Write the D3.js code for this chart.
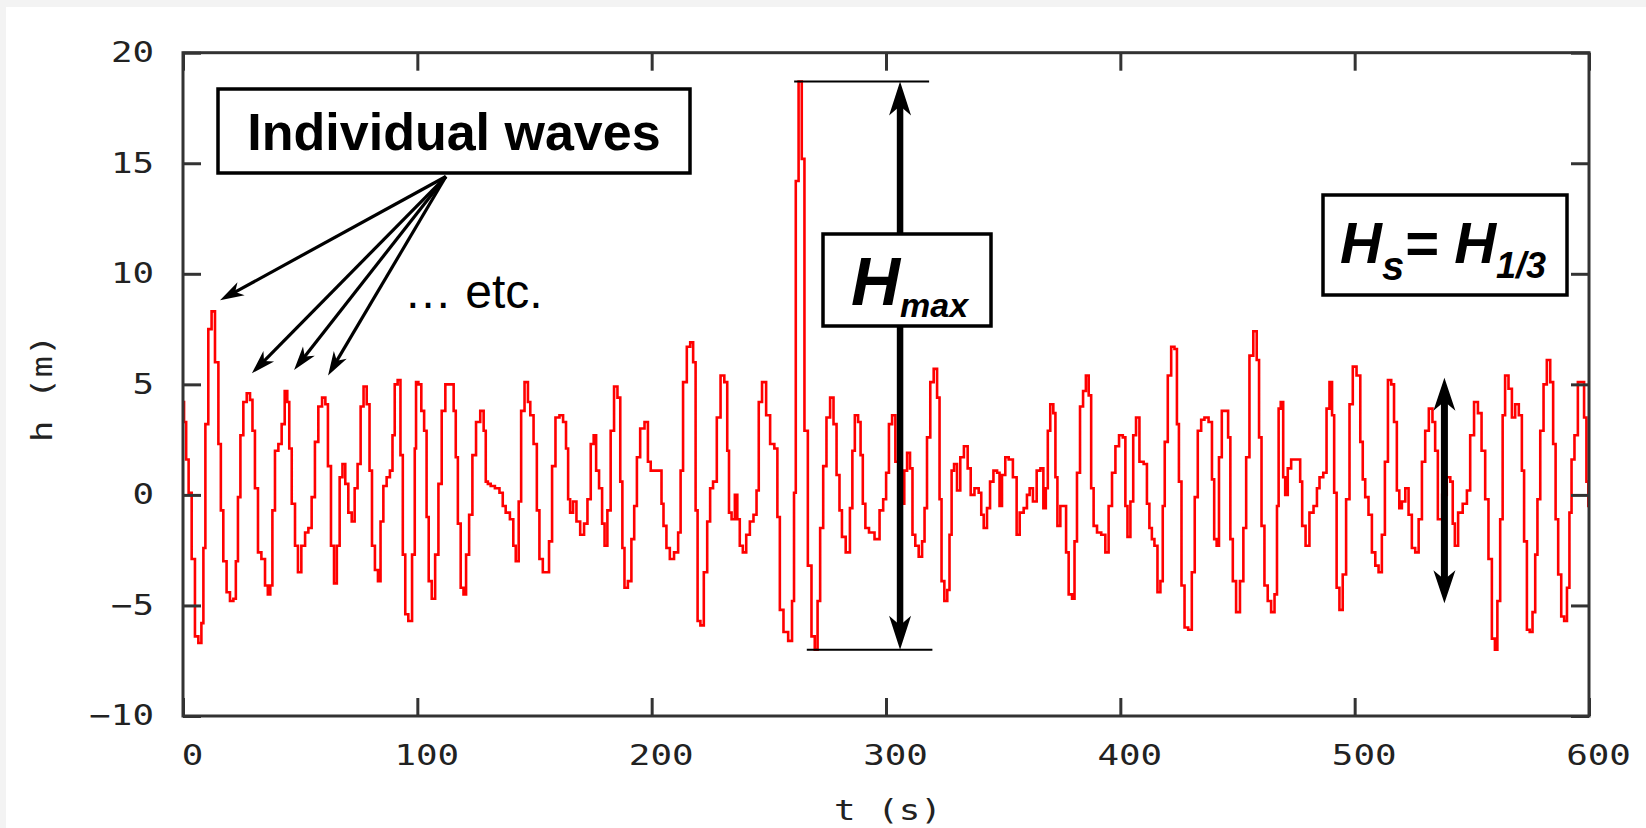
<!DOCTYPE html>
<html>
<head>
<meta charset="utf-8">
<script src="https://cdn.jsdelivr.net/npm/d3@7"></script>
<style>
  body { margin: 0; background: #f3f3f3; }
  svg { display: block; }
</style>
</head>
<body>
<svg id="chart"></svg>
<script>
// Surface elevation record, [t (s), h (m)]
const waveRecord = [
  [0, 4.2], [0.9, 3.3], [1.8, 1.6], [3.0, 0.1], [4.4, -2.9], [5.8, -6.4], [7.3, -6.7], [8.4, -5.8],
  [9.0, -2.4], [10.1, 3.2], [11.5, 7.5], [12.9, 8.3], [14.4, 6.0], [15.8, 2.3], [16.5, -0.7], [17.9, -3.0],
  [19.3, -4.4], [20.8, -4.8], [22.2, -4.7], [22.9, -3.0], [24.0, -0.1], [25.0, 2.7], [26.5, 4.2], [27.9, 4.6],
  [29.3, 4.3], [30.0, 2.9], [31.4, 0.3], [32.6, -2.6], [34.3, -2.9], [35.7, -4.1], [36.7, -4.5], [37.8, -4.1],
  [38.5, -0.7], [40.0, 2.0], [41.4, 2.3], [42.8, 3.2], [44.0, 4.7], [45.0, 4.2], [45.7, 2.1], [47.1, -0.4],
  [48.5, -2.3], [49.6, -3.5], [51.4, -2.3], [52.8, -1.7], [54.2, -1.5], [55.6, -0.1], [57.0, 2.4], [58.5, 4.0],
  [60.2, 4.4], [61.3, 4.1], [62.4, 1.3], [63.9, -2.3], [65.0, -4.0], [66.3, -2.3], [67.4, 0.8], [68.7, 1.4],
  [69.8, 0.5], [71.3, -0.8], [72.7, -1.2], [73.8, 0.3], [75.2, 1.4], [76.4, 4.0], [77.7, 4.9], [79.1, 4.1],
  [80.1, 1.1], [81.2, -2.3], [82.6, -3.4], [83.8, -3.9], [84.8, -1.2], [86.2, 0.4], [87.6, 0.8], [89.0, 1.1],
  [89.8, 2.7], [90.9, 5.0], [92.3, 5.2], [93.3, 1.8], [94.3, -2.7], [95.4, -5.4], [96.9, -5.7], [98.6, -2.7],
  [99.2, 2.1], [99.7, 5.1], [101.2, 5.0], [102.2, 3.8], [103.6, 2.9], [104.3, -1.0], [105.4, -3.9], [106.9, -4.7],
  [108.3, -2.7], [109.7, 0.5], [111.1, 3.8], [112.8, 5.0], [115.0, 5.0], [116.0, 3.8], [116.8, 1.7], [117.8, -1.3],
  [119.2, -4.2], [120.2, -4.5], [121.4, -2.7], [122.8, -0.9], [124.2, 1.8], [125.9, 3.3], [127.8, 3.8], [128.8, 2.9],
  [129.6, 0.6], [130.6, 0.5], [132.0, 0.4], [134.2, 0.3], [135.9, 0.1], [137.0, -0.5], [138.4, -0.8], [140.6, -1.1],
  [141.3, -2.3], [142.7, -3.0], [143.8, -0.3], [144.8, 3.8], [146.7, 5.1], [147.7, 4.2], [148.7, 3.6], [150.5, 2.3],
  [151.5, -0.7], [152.7, -2.9], [154.4, -3.5], [155.5, -3.5], [156.9, -2.1], [158.1, 1.3], [159.8, 3.5], [161.5, 3.6],
  [162.9, 3.3], [164.0, 2.1], [164.7, -0.2], [165.7, -0.8], [167.2, -0.3], [168.6, -1.2], [170.4, -1.8], [171.9, -1.3],
  [173.3, -0.2], [174.7, 2.3], [175.8, 2.7], [176.8, 1.1], [178.3, 0.3], [179.4, -1.3], [180.4, -2.3], [181.8, -0.7],
  [183.2, 2.9], [184.7, 4.9], [186.1, 4.4], [187.1, 0.6], [187.9, -2.4], [188.9, -4.2], [190.8, -3.9], [191.9, -2.0],
  [193.2, -0.5], [194.2, 1.7], [196.0, 3.0], [197.9, 3.3], [198.9, 1.5], [200.3, 1.1], [203.9, 1.1], [204.5, -0.4],
  [205.6, -1.4], [207.0, -2.4], [208.5, -2.9], [210.6, -2.6], [212.0, -1.7], [212.7, 1.1], [214.1, 5.1], [215.9, 6.7],
  [217.0, 6.9], [218.4, 6.0], [219.1, -0.7], [220.1, -5.7], [221.5, -5.9], [223.0, -3.5], [224.4, -1.2], [225.5, 0.3],
  [226.9, 0.6], [228.7, 3.5], [230.1, 5.4], [231.9, 5.1], [232.6, 2.0], [233.4, -0.8], [234.8, -1.1], [236.2, 0.0],
  [236.9, -1.1], [238.3, -2.3], [239.5, -2.6], [241.2, -1.8], [242.6, -1.2], [244.3, -0.9], [245.2, 0.2], [246.2, 4.2],
  [248.0, 5.1], [249.7, 3.6], [251.4, 2.3], [253.3, 2.1], [254.0, -1.0], [255.4, -5.2], [257.1, -6.2], [259.4, -6.6],
  [260.4, -4.8], [261.1, 0.1], [261.9, 14.2], [263.5, 18.7], [264.6, 15.2], [265.8, 2.9], [267.5, -3.2], [268.9, -6.4],
  [270.3, -7.0], [271.3, -4.8], [272.5, -1.5], [273.9, 1.3], [275.3, 3.5], [277.0, 4.4], [278.2, 3.2], [279.6, 0.9],
  [280.7, -0.7], [281.7, -1.9], [283.9, -2.6], [285.3, -0.6], [286.0, 2.0], [287.4, 3.6], [288.8, 3.3], [289.5, 1.8],
  [290.7, -0.4], [291.7, -1.5], [293.8, -1.7], [296.4, -2.0], [298.1, -0.7], [299.5, -0.2], [300.6, 1.0], [301.9, 3.2],
  [303.3, 3.6], [304.7, 1.5], [305.8, -0.5], [307.3, -0.4], [308.3, 1.1], [309.7, 1.9], [310.8, 1.2], [311.8, -1.8],
  [313.2, -2.3], [314.7, -2.8], [316.1, -2.1], [316.8, -0.6], [318.2, 2.6], [319.6, 5.1], [321.1, 5.7], [322.5, 4.4],
  [323.2, -0.2], [324.2, -3.9], [325.6, -4.8], [326.7, -4.3], [327.5, -1.8], [328.5, 1.1], [329.6, 1.4], [331.0, 0.2],
  [332.4, 1.7], [334.1, 2.2], [335.6, 1.2], [336.7, 0.0], [338.8, 0.3], [340.3, 0.1], [341.0, -0.9], [342.4, -1.5],
  [343.8, -0.6], [345.0, 0.6], [346.7, 1.1], [348.1, 1.0], [348.8, -0.5], [350.2, 0.9], [351.6, 1.7], [353.1, 1.6],
  [355.2, 0.8], [356.3, -1.8], [357.8, -0.8], [359.7, -0.6], [360.6, 0.0], [362.0, 0.3], [363.4, -0.3], [365.2, 1.1],
  [366.6, 1.2], [367.7, -0.6], [368.7, 0.3], [369.4, 2.9], [370.8, 4.1], [372.0, 3.7], [372.6, 0.8], [373.7, -1.4],
  [375.1, -0.5], [376.5, -0.5], [377.2, -2.6], [378.7, -4.5], [380.1, -4.7], [380.8, -2.1], [382.2, 1.0], [383.4, 4.0],
  [384.8, 4.7], [385.8, 5.4], [387.2, 4.5], [387.9, 0.3], [389.3, -1.4], [390.8, -1.7], [392.9, -1.8], [394.3, -2.6],
  [395.7, -0.5], [397.2, 1.0], [398.6, 2.2], [400.3, 2.7], [401.8, 2.6], [402.5, -0.5], [403.6, -1.9], [405.0, -0.3],
  [406.0, 2.7], [407.4, 3.5], [408.9, 1.5], [411.0, 1.4], [411.7, -0.4], [413.1, -1.5], [413.8, -2.0], [415.3, -2.3],
  [416.4, -4.4], [417.8, -3.9], [418.4, -0.5], [419.5, 2.4], [421.0, 5.4], [422.4, 6.7], [423.8, 6.6], [424.5, 3.2],
  [425.5, 0.6], [426.7, -4.1], [428.1, -6.0], [429.8, -6.1], [431.2, -3.5], [432.3, -0.1], [433.8, 2.9], [435.2, 3.4],
  [436.6, 3.5], [438.7, 3.3], [439.5, 0.7], [440.6, -2.0], [441.6, -2.3], [442.6, 1.7], [444.0, 3.8], [445.4, 3.8],
  [446.6, 2.6], [447.3, -2.0], [448.7, -3.9], [450.1, -5.3], [452.0, -3.9], [453.0, -1.5], [454.4, 1.7], [455.8, 6.3],
  [457.7, 7.4], [458.7, 6.1], [459.7, 2.6], [460.8, -1.4], [462.2, -4.1], [463.6, -4.8], [465.1, -5.3], [466.5, -4.5],
  [467.2, -0.5], [467.9, 3.9], [469.0, 4.2], [470.0, 0.8], [470.7, 0.0], [472.2, 1.2], [473.6, 1.6], [476.4, 1.6],
  [477.1, 0.6], [478.1, -1.4], [480.0, -2.3], [481.4, -0.8], [483.5, -0.5], [484.3, 0.3], [485.7, 0.8], [487.5, 1.0],
  [488.5, 3.9], [490.0, 5.1], [490.7, 3.6], [491.8, 0.1], [492.8, -4.2], [494.2, -5.2], [495.6, -3.6], [497.1, -0.2],
  [498.5, 4.1], [499.9, 5.8], [501.7, 5.4], [503.1, 2.4], [503.8, 0.7], [505.2, -0.1], [506.6, -0.9], [508.1, -2.6],
  [509.5, -3.2], [510.9, -3.5], [512.3, -1.8], [513.5, 1.5], [514.9, 5.2], [516.3, 5.0], [517.3, 3.3], [518.7, 0.2],
  [519.4, -0.6], [520.9, -0.3], [522.3, 0.3], [523.7, -0.9], [525.1, -2.4], [526.6, -2.6], [528.0, -1.1], [529.4, 1.5],
  [530.8, 2.9], [532.5, 3.9], [533.9, 3.3], [534.8, 2.0], [536.2, -1.1], [538.5, 0.0], [540.1, 0.8], [541.5, 0.6],
  [542.2, -1.3], [543.3, -2.3], [545.0, -0.8], [547.2, -0.4], [548.6, 0.2], [550.0, 2.7], [551.9, 4.2], [553.3, 3.7],
  [555.0, 2.0], [556.4, -0.2], [557.8, -2.9], [559.3, -6.5], [560.4, -7.0], [561.4, -4.8], [562.8, -1.1], [563.5, 3.6],
  [564.9, 5.4], [566.4, 4.8], [567.8, 3.5], [569.2, 4.1], [570.9, 3.6], [571.8, 1.1], [572.8, -2.1], [574.2, -6.1],
  [575.2, -6.2], [576.6, -5.3], [577.5, -2.7], [578.5, -0.2], [579.9, 2.9], [581.3, 5.0], [582.7, 6.1], [584.2, 5.1],
  [585.2, 2.3], [586.3, -1.1], [587.4, -3.6], [588.9, -5.5], [589.9, -5.7], [591.3, -4.2], [592.0, -0.8], [593.1, 1.6],
  [594.5, 2.7], [596.0, 5.1], [597.4, 5.1], [598.4, 3.5], [599.4, 0.6], [600, -0.5]
];

const xTicks = [0, 100, 200, 300, 400, 500, 600];
const yTicks = [-10, -5, 0, 5, 10, 15, 20];
const xLabel = "t (s)";
const yLabel = "h (m)";

// annotation anchors, in data units [t, h]
const pointerOrigin = [112.2, 14.4];
const pointerTargets = [[15.8, 8.8], [29.4, 5.5], [47.4, 5.65], [61.9, 5.4]];
const hMaxAtT = 306;
const hMaxTopSpan = [260.8, 318.4];
const hMaxBottomSpan = [266.2, 319.8];
const hsMarker = [538.3, -4.9, 5.3];

const width = 1646;
const height = 828;
const plot = { left: 183, right: 1589, top: 52.7, bottom: 716 };
const monoFont = "'DejaVu Sans Mono', monospace";
const sansFont = "'Liberation Sans', Arial, sans-serif";
const stretch = 1.28; // the gnuplot digits are wider than DejaVu's

const svg = d3.select("#chart").attr("width", width).attr("height", height);

// page background with the thin grey border top/left
svg.append("rect").attr("width", width).attr("height", height).attr("fill", "#f3f3f3");
svg.append("rect").attr("x", 6).attr("y", 7)
  .attr("width", width - 6).attr("height", height - 7).attr("fill", "#fff");

const x = d3.scaleLinear().domain([0, 600]).range([plot.left, plot.right]);
const y = d3.scaleLinear().domain([-10, 20]).range([plot.bottom, plot.top]);

// the record itself
const line = d3.line()
  .x(d => x(d[0]))
  .y(d => y(d[1]))
  .curve(d3.curveStep);

svg.append("path")
  .datum(waveRecord)
  .attr("d", line)
  .attr("fill", "none")
  .attr("stroke", "#ff0000")
  .attr("stroke-width", 2.6)
  .attr("stroke-linejoin", "miter");

// axes, ticks mirrored on all four sides, pointing inward
function styleAxis(g) {
  g.select(".domain").remove();
  g.selectAll(".tick line").attr("stroke", "#333").attr("stroke-width", 3);
  g.selectAll(".tick text")
    .attr("fill", "#222")
    .style("font-family", monoFont)
    .style("font-size", "28px")
    .style("font-weight", "500")
    .attr("x", function () { return +d3.select(this).attr("x") / stretch; })
    .attr("transform", `scale(${stretch},1)`);
}

svg.append("g")
  .attr("transform", `translate(0,${plot.bottom})`)
  .call(d3.axisBottom(x).tickValues(xTicks).tickSizeInner(-18).tickSizeOuter(0).tickPadding(29))
  .call(styleAxis)
  .selectAll(".tick text").attr("x", 9 / stretch);

svg.append("g")
  .attr("transform", `translate(0,${plot.top})`)
  .call(d3.axisTop(x).tickValues(xTicks).tickSizeInner(-18).tickSizeOuter(0).tickFormat(""))
  .call(styleAxis);

svg.append("g")
  .attr("transform", `translate(${plot.left},0)`)
  .call(d3.axisLeft(y).tickValues(yTicks).tickSizeInner(-18).tickSizeOuter(0).tickPadding(29))
  .call(styleAxis);

svg.append("g")
  .attr("transform", `translate(${plot.right},0)`)
  .call(d3.axisRight(y).tickValues(yTicks).tickSizeInner(-18).tickSizeOuter(0).tickFormat(""))
  .call(styleAxis);

// frame
svg.append("rect")
  .attr("x", plot.left).attr("y", plot.top)
  .attr("width", plot.right - plot.left).attr("height", plot.bottom - plot.top)
  .attr("fill", "none").attr("stroke", "#333").attr("stroke-width", 3);

// axis titles
svg.append("text")
  .attr("transform", `translate(${(plot.left + plot.right) / 2 + 2},820) scale(${stretch},1)`)
  .attr("text-anchor", "middle")
  .attr("fill", "#222")
  .style("font-family", monoFont).style("font-size", "28px").style("font-weight", "500")
  .text(xLabel);

svg.append("text")
  .attr("transform", `translate(52,${(plot.top + plot.bottom) / 2 + 4}) rotate(-90) scale(${stretch},1)`)
  .attr("text-anchor", "middle")
  .attr("fill", "#222")
  .style("font-family", monoFont).style("font-size", "28px").style("font-weight", "500")
  .text(yLabel);

// Helper: barbed arrow head with its tip at (px,py)
function arrowHead(g, px, py, angle, len, wid) {
  const pts = [[0, 0], [-len, wid / 2], [-len * 0.72, 0], [-len, -wid / 2]];
  g.append("path")
    .attr("d", "M" + pts.map(p => p.join(",")).join("L") + "Z")
    .attr("transform", `translate(${px},${py}) rotate(${(angle * 180) / Math.PI})`)
    .attr("fill", "#000");
}

// Helper: straight arrow, optionally with heads at both ends
function arrow(g, x1, y1, x2, y2, opts) {
  const ang = Math.atan2(y2 - y1, x2 - x1);
  const c = Math.cos(ang), s = Math.sin(ang);
  const back = opts.len * 0.6;
  g.append("line")
    .attr("x1", opts.both ? x1 + c * back : x1)
    .attr("y1", opts.both ? y1 + s * back : y1)
    .attr("x2", x2 - c * back)
    .attr("y2", y2 - s * back)
    .attr("stroke", "#000")
    .attr("stroke-width", opts.width);
  arrowHead(g, x2, y2, ang, opts.len, opts.wid);
  if (opts.both) arrowHead(g, x1, y1, ang + Math.PI, opts.len, opts.wid);
}

const notes = svg.append("g");

// "Individual waves" pointers
pointerTargets.forEach(p => {
  arrow(notes, x(pointerOrigin[0]), y(pointerOrigin[1]), x(p[0]), y(p[1]),
    { width: 3.2, len: 24, wid: 15 });
});

notes.append("rect")
  .attr("x", 218).attr("y", 89).attr("width", 472).attr("height", 84)
  .attr("fill", "#fff").attr("stroke", "#000").attr("stroke-width", 3.5);
notes.append("text")
  .attr("x", 454).attr("y", 150)
  .attr("text-anchor", "middle")
  .style("font-family", sansFont).style("font-weight", "bold").style("font-size", "52px")
  .text("Individual waves");

notes.append("text")
  .attr("x", 404).attr("y", 308)
  .style("font-family", sansFont).style("font-size", "48px")
  .text("\u2026 etc.");

// Hmax: guides at the highest crest and the deepest trough
const [hLow, hHigh] = d3.extent(waveRecord, d => d[1]);
notes.append("line")
  .attr("x1", x(hMaxTopSpan[0])).attr("x2", x(hMaxTopSpan[1]))
  .attr("y1", y(hHigh)).attr("y2", y(hHigh))
  .attr("stroke", "#000").attr("stroke-width", 2);
notes.append("line")
  .attr("x1", x(hMaxBottomSpan[0])).attr("x2", x(hMaxBottomSpan[1]))
  .attr("y1", y(hLow)).attr("y2", y(hLow))
  .attr("stroke", "#000").attr("stroke-width", 2);
arrow(notes, x(hMaxAtT), y(hLow), x(hMaxAtT), y(hHigh), { width: 6.5, len: 34, wid: 22, both: true });

notes.append("rect")
  .attr("x", 823).attr("y", 234).attr("width", 168).attr("height", 92)
  .attr("fill", "#fff").attr("stroke", "#000").attr("stroke-width", 3.5);
const hMaxText = notes.append("text")
  .attr("x", 851).attr("y", 305)
  .style("font-family", sansFont).style("font-weight", "bold").style("font-style", "italic");
hMaxText.append("tspan").style("font-size", "68px").text("H");
hMaxText.append("tspan").attr("dy", 12).style("font-size", "34px").text("max");

// Hs marker
arrow(notes, x(hsMarker[0]), y(hsMarker[1]), x(hsMarker[0]), y(hsMarker[2]),
  { width: 7, len: 33, wid: 22, both: true });

notes.append("rect")
  .attr("x", 1323).attr("y", 195).attr("width", 244).attr("height", 100)
  .attr("fill", "#fff").attr("stroke", "#000").attr("stroke-width", 3.5);
const hsText = notes.append("text")
  .attr("x", 1340).attr("y", 263)
  .style("font-family", sansFont).style("font-weight", "bold").style("font-style", "italic");
hsText.append("tspan").style("font-size", "58px").text("H");
hsText.append("tspan").attr("dy", 17).style("font-size", "40px").text("s");
hsText.append("tspan").attr("dy", -17).style("font-size", "58px").text("= H");
hsText.append("tspan").attr("dy", 15).style("font-size", "36px").text("1/3");
</script>
</body>
</html>
